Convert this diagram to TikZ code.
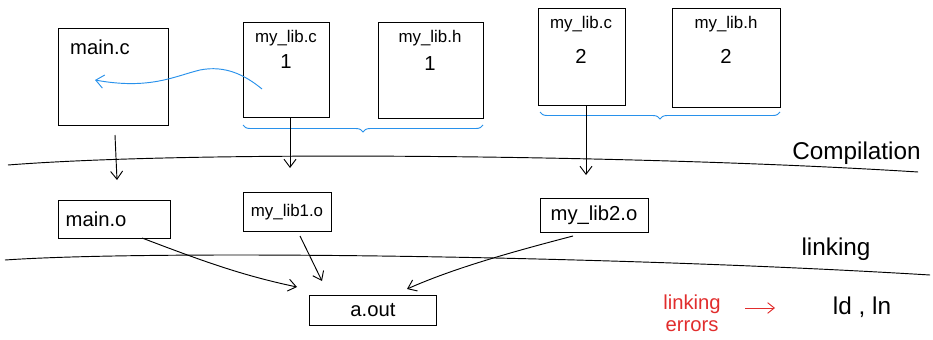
\documentclass[tikz,border=0pt]{standalone}
\usepackage{fontspec}
\setmainfont{Liberation Sans}
\usetikzlibrary{decorations.pathreplacing,arrows.meta}
\definecolor{skblue}{RGB}{40,145,235}
\definecolor{skred}{RGB}{225,45,45}
\begin{document}
\begin{tikzpicture}[x=0.03cm,y=-0.03cm,
  file/.style={draw,thick,minimum width=#1*0.03cm,inner sep=2pt,font=\Large},
  lbl/.style={font=\Large,anchor=north},
  num/.style={font=\LARGE},
  conn/.style={thick,-{Straight Barb[length=2.4mm,width=3.6mm]}},
  divider/.style={thick},
  brc/.style={skblue,thick,decorate,decoration={brace,mirror,amplitude=6pt}}]
\useasboundingbox (0,0) rectangle (933,340);
% source files
\draw[thick] (58,28) rectangle (168,125);
\node[lbl,anchor=north west,font=\LARGE] (mainc) at (66,36) {main.c};
\draw[thick] (243,22) rectangle (329,117);
\node[lbl] (libc1) at (286,26) {my\_lib.c};
\node[num] (libc1n) at (286,62) {1};
\draw[thick] (378,22) rectangle (483,118);
\node[lbl] (libh1) at (430,26) {my\_lib.h};
\node[num] (libh1n) at (430,64) {1};
\draw[thick] (538,8) rectangle (625,105);
\node[lbl] (libc2) at (581,12) {my\_lib.c};
\node[num] (libc2n) at (581,56) {2};
\draw[thick] (672,8) rectangle (780,107);
\node[lbl] (libh2) at (726,12) {my\_lib.h};
\node[num] (libh2n) at (726,56) {2};
% braces
\draw[brc] (243,125) -- (483,125);
\draw[brc] (540,112) -- (780,112);
% blue include arrow
\coordinate (incs) at (262,89);
\coordinate (ince) at (95,80);
\draw[skblue,thick,-{Straight Barb[length=2.4mm,width=4mm]}] (incs) .. controls (245,75) and (225,65) .. (200,70) .. controls (175,76) and (150,90) .. (ince);
% compilation divider
\coordinate (c0) at (8,165);
\coordinate (c1) at (918,172);
\draw[divider] (c0) .. controls (200,150) and (650,155) .. (c1);
\node[font=\huge,anchor=south east,inner sep=1pt] (complbl) at (922,166) {Compilation};
% object files
\node[file=112,minimum height=38*0.03cm,text width=2.9cm,align=left,font=\LARGE] (maino) at (114,219) {main.o};
\node[file=88,minimum height=39*0.03cm] (lib1o) at (287,212) {my\_lib1.o};
\node[file=108,minimum height=34*0.03cm,font=\LARGE] (lib2o) at (594,215) {my\_lib2.o};
% compile arrows
\coordinate (m0) at (115,135);
\coordinate (m1) at (117,180);
\coordinate (k0) at (290,118);
\coordinate (k1) at (290,168);
\coordinate (n0) at (586,105);
\coordinate (n1) at (586,175);
\draw[conn] (m0) -- (m1);
\draw[conn] (k0) -- (k1);
\draw[conn] (n0) -- (n1);
% linking divider
\coordinate (l0) at (5,260);
\coordinate (l1) at (930,275);
\draw[divider] (l0) .. controls (150,250) and (600,255) .. (l1);
\node[font=\huge,anchor=south,inner sep=1pt] (linklbl) at (836,262) {linking};
% a.out
\node[file=127,minimum height=30*0.03cm,font=\LARGE] (aout) at (373,310) {a.out};
% link arrows
\coordinate (a0) at (142,238);
\coordinate (a1) at (297,287);
\coordinate (b0) at (300,236);
\coordinate (b1) at (322,281);
\coordinate (d0) at (573,236);
\coordinate (d1) at (407,289);
\draw[conn] (a0) .. controls (200,260) and (240,275) .. (a1);
\draw[conn] (b0) -- (b1);
\draw[conn] (d0) .. controls (500,255) and (450,270) .. (d1);
% linking errors
\node[skred,align=center,font=\LARGE,inner sep=0pt] (lerr) at (692,313) {linking\\[-3pt]errors};
\node[font=\huge] (ld) at (862,307) {ld , ln};
\coordinate (r0) at (745,308);
\coordinate (r1) at (775,308);
\draw[skred,thick,-{Straight Barb[length=2mm,width=3.2mm]}] (r0) -- (r1);
\end{tikzpicture}
\end{document}
